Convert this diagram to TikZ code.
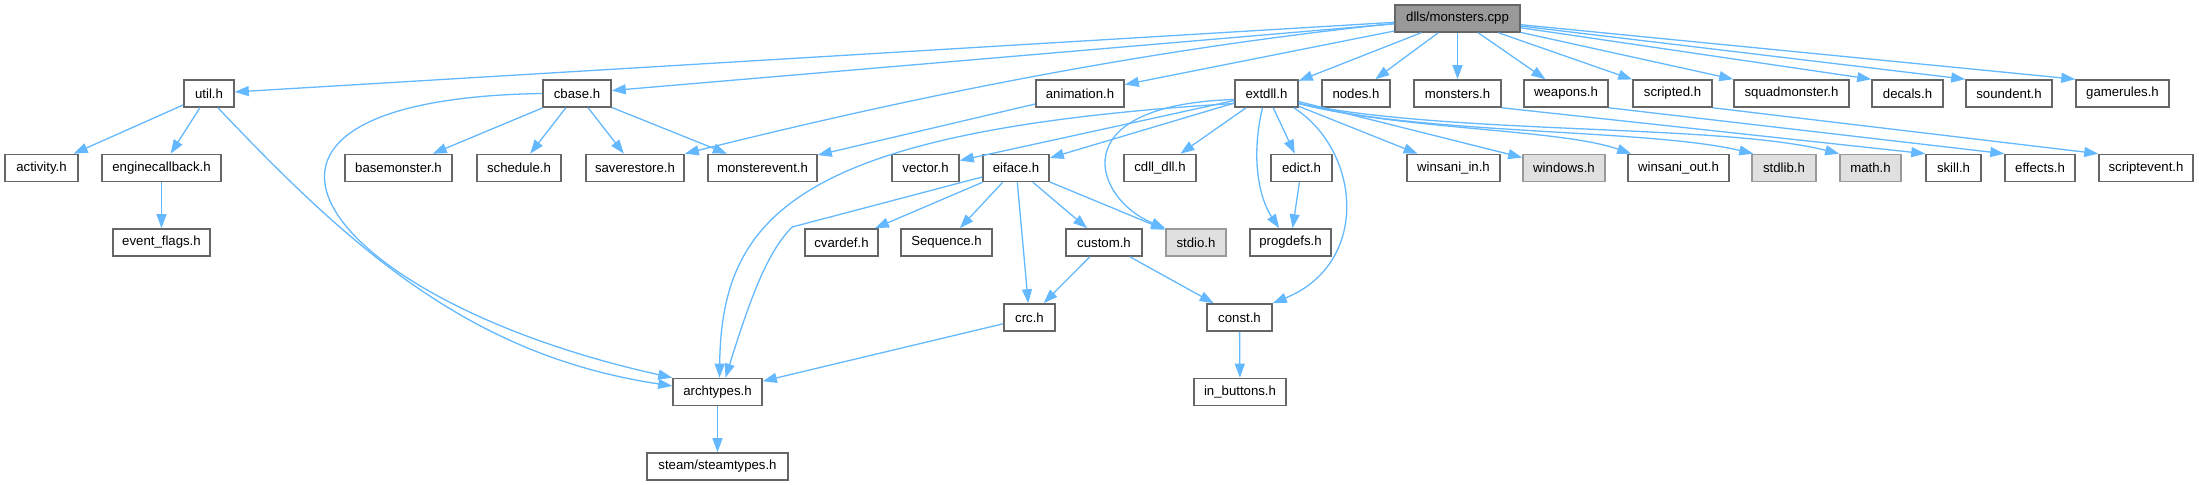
\documentclass[tikz,border=0pt]{standalone}
\usepackage{fontspec}
\setmainfont{Liberation Sans}
\usetikzlibrary{arrows.meta,calc}

\definecolor{edgeblue}{HTML}{63B8FF}
\definecolor{boxline}{HTML}{666666}
\definecolor{sysline}{HTML}{999999}
\definecolor{sysfill}{HTML}{E0E0E0}
\definecolor{rootfill}{HTML}{999999}

\tikzset{
  hdr/.style={draw=boxline, fill=white, line width=0.8pt, minimum height=13.5pt,
    inner sep=0pt, font=\fontsize{6.6}{8}\selectfont},
  syshdr/.style={hdr, draw=sysline, fill=sysfill},
  roothdr/.style={hdr, fill=rootfill},
  dep/.style={draw=edgeblue, line width=0.65pt, -{Triangle[length=7pt,width=5pt]}},
}

\begin{document}
\begin{tikzpicture}[x=0.5pt, y=-0.5pt]
        \useasboundingbox (0,0) rectangle (2199,485);
        \node[roothdr, minimum width=62.5pt] (root) at (1457.5,18.5) {dlls/monsters.cpp};
        % first row
        \node[hdr, minimum width=25pt] (util) at (209,93.5) {util.h};
        \node[hdr, minimum width=34pt] (cbase) at (577,93.5) {cbase.h};
        \node[hdr, minimum width=44pt] (animation) at (1080,93.5) {animation.h};
        \node[hdr, minimum width=31.5pt] (extdll) at (1266.5,93.5) {extdll.h};
        \node[hdr, minimum width=34pt] (nodes) at (1356,93.5) {nodes.h};
        \node[hdr, minimum width=43.5pt] (monsters) at (1457.5,93.5) {monsters.h};
        \node[hdr, minimum width=42pt] (weapons) at (1566,93.5) {weapons.h};
        \node[hdr, minimum width=39.5pt] (scripted) at (1672.5,93.5) {scripted.h};
        \node[hdr, minimum width=57.5pt] (squad) at (1791.5,93.5) {squadmonster.h};
        \node[hdr, minimum width=35.5pt] (decals) at (1907.5,93.5) {decals.h};
        \node[hdr, minimum width=43pt] (soundent) at (2009,93.5) {soundent.h};
        \node[hdr, minimum width=46.5pt] (gamerules) at (2122.5,93.5) {gamerules.h};
        % second row
        \node[hdr, minimum width=36.5pt] (activity) at (41.5,168) {activity.h};
        \node[hdr, minimum width=59.5pt] (engcb) at (161.5,168) {enginecallback.h};
        \node[hdr, minimum width=53.5pt] (basemon) at (398.5,168) {basemonster.h};
        \node[hdr, minimum width=42pt] (schedule) at (519,168) {schedule.h};
        \node[hdr, minimum width=49pt] (saverest) at (635,168) {saverestore.h};
        \node[hdr, minimum width=54.5pt] (monevent) at (762.5,168) {monsterevent.h};
        \node[hdr, minimum width=33.5pt] (vector) at (925.5,168) {vector.h};
        \node[hdr, minimum width=33pt] (eiface) at (1016,168) {eiface.h};
        \node[hdr, minimum width=36pt] (cdll) at (1160,168) {cdll\_dll.h};
        \node[hdr, minimum width=30.5pt] (edict) at (1301.5,168) {edict.h};
        \node[hdr, minimum width=46.5pt] (winsin) at (1453.5,168) {winsani\_in.h};
        \node[syshdr, minimum width=41pt] (windows) at (1564,168) {windows.h};
        \node[hdr, minimum width=50.5pt] (winsout) at (1678.5,168) {winsani\_out.h};
        \node[syshdr, minimum width=32pt] (stdlib) at (1784,168) {stdlib.h};
        \node[syshdr, minimum width=30.5pt] (math) at (1870.5,168) {math.h};
        \node[hdr, minimum width=27.5pt] (skill) at (1953.5,168) {skill.h};
        \node[hdr, minimum width=35pt] (effects) at (2040,168) {effects.h};
        \node[hdr, minimum width=47pt] (scriptev) at (2146,168) {scriptevent.h};
        % third row
        \node[hdr, minimum width=48.5pt] (evflags) at (161.5,242.5) {event\_flags.h};
        \node[hdr, minimum width=36.5pt] (cvardef) at (841.5,242.5) {cvardef.h};
        \node[hdr, minimum width=45.5pt] (sequence) at (946.5,242.5) {Sequence.h};
        \node[hdr, minimum width=38pt] (custom) at (1104,242.5) {custom.h};
        \node[syshdr, minimum width=30pt] (stdio) at (1196,242.5) {stdio.h};
        \node[hdr, minimum width=40.5pt] (progdefs) at (1290.5,242.5) {progdefs.h};
        % lower rows
        \node[hdr, minimum width=25.5pt] (crc) at (1029.5,317.5) {crc.h};
        \node[hdr, minimum width=32.5pt] (const) at (1239.5,317.5) {const.h};
        \node[hdr, minimum width=44.5pt] (archtypes) at (717.5,392) {archtypes.h};
        \node[hdr, minimum width=46pt] (inbuttons) at (1240,392) {in\_buttons.h};
        \node[hdr, minimum width=70.5pt] (steamtypes) at (717.5,466.5) {steam/steamtypes.h};
        % includes of the source file
        \draw[dep] (root) -- (util);
        \draw[dep] (root) -- (cbase);
        \draw[dep] ($(root.west)+(0,5)$) .. controls +(-240,25) and +(240,-60) .. (saverest.north east);
        \draw[dep] (root) -- (animation);
        \draw[dep] (root) -- (extdll);
        \draw[dep] (root) -- (nodes);
        \draw[dep] (root) -- (monsters);
        \draw[dep] (root) -- (weapons);
        \draw[dep] (root) -- (scripted);
        \draw[dep] (root) -- (squad.north west);
        \draw[dep] (root) -- (decals.north west);
        \draw[dep] (root) -- (soundent.north west);
        \draw[dep] (root) -- (gamerules.north west);
        % util.h and cbase.h
        \draw[dep] (util) -- (activity);
        \draw[dep] (util) -- (engcb);
        \draw[dep] ($(util.south)+(9,0)$) .. controls +(138,146) and +(-198,-30) .. ($(archtypes.west)+(0,-6)$);
        \draw[dep] (engcb) -- (evflags);
        \draw[dep] (cbase) -- (basemon);
        \draw[dep] (cbase) -- (schedule);
        \draw[dep] (cbase) -- (saverest);
        \draw[dep] (cbase) -- (monevent);
        \draw[dep] (cbase.west) .. controls +(-373,6) and +(-352,-78) .. (archtypes.north west);
        \draw[dep] (animation) -- (monevent);
        % extdll.h
        \draw[dep] (extdll) -- (vector);
        \draw[dep] (extdll) -- (eiface);
        \draw[dep] ($(extdll.west)+(0,10)$) .. controls +(-435,26.5) and +(2,-164) .. ($(archtypes.north)+(2,0)$);
        \draw[dep] ($(extdll.west)+(0,6)$) .. controls +(-175,5.5) and +(-71,-29) .. (stdio.north west);
        \draw[dep] (extdll) -- (cdll);
        \draw[dep] (extdll) -- (edict);
        \draw[dep] ($(extdll.south)+(-4,0)$) .. controls +(-12,50) and +(-20,-30) .. ($(progdefs.north west)+(30,0)$);
        \draw[dep] ($(extdll.south east)+(-5,0)$) .. controls +(67,43) and +(98,-40) .. (const.north east);
        \draw[dep] (extdll) -- (winsin);
        \draw[dep] (extdll) -- (windows);
        \draw[dep] ($(extdll.east)+(0,10)$) .. controls +(102,26.5) and +(-72,-25) .. ($(winsout.north west)+(4,0)$);
        \draw[dep] ($(extdll.east)+(0,10)$) .. controls +(122,31.5) and +(-104,-25) .. ($(stdlib.north west)+(2,0)$);
        \draw[dep] ($(extdll.east)+(0,10)$) .. controls +(152,31.5) and +(-120,-30) .. (math.north west);
        \draw[dep] (edict) -- (progdefs);
        % other first row headers
        \draw[dep] (monsters.south east) -- (skill.north west);
        \draw[dep] (weapons.south east) -- (effects.north west);
        \draw[dep] (scripted.south east) -- (scriptev.north west);
        % eiface.h and below
        \draw[dep] ($(eiface.west)+(0,9)$) -- +(-190,50) .. controls +(-25,25) and +(25,-80) .. ($(archtypes.north)+(8,0)$);
        \draw[dep] (eiface) -- (cvardef);
        \draw[dep] (eiface) -- (sequence);
        \draw[dep] (eiface) -- (crc);
        \draw[dep] (eiface) -- (custom);
        \draw[dep] (eiface) -- (stdio);
        \draw[dep] (custom) -- (crc);
        \draw[dep] (custom) -- (const);
        \draw[dep] (crc) -- (archtypes);
        \draw[dep] (const) -- (inbuttons);
        \draw[dep] (archtypes) -- (steamtypes);
\end{tikzpicture}
\end{document}
